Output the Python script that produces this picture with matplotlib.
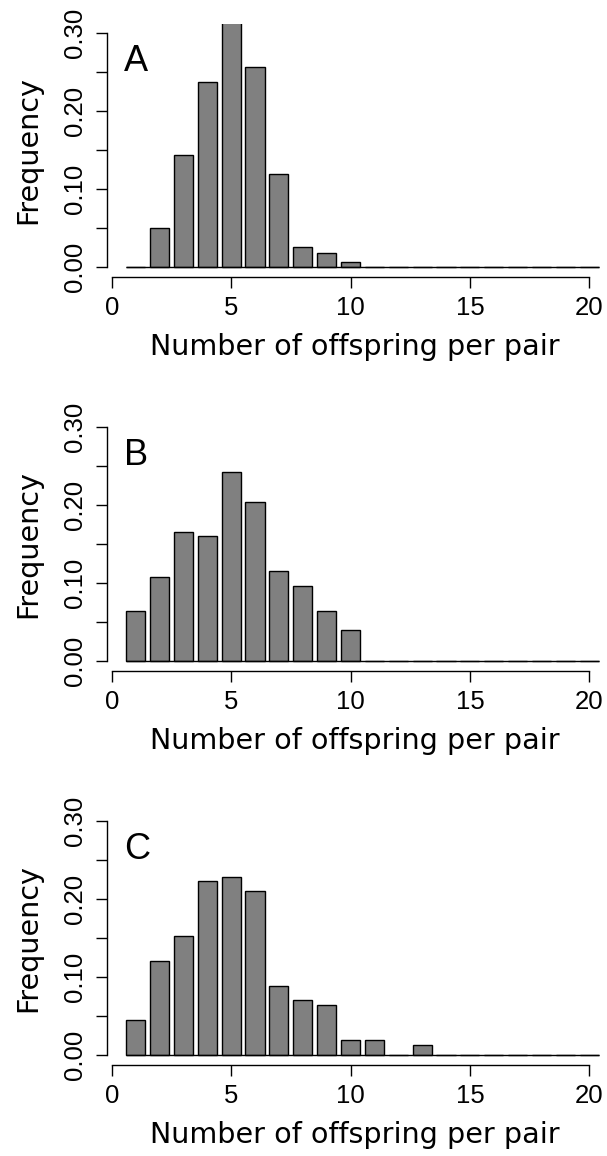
import numpy as np
import matplotlib
matplotlib.use('Agg')
import matplotlib.pyplot as plt

# offspring counts per pair (1..20) and observed frequency per panel
offspring = np.arange(1, 21)
freq_a = [0, 0.050, 0.144, 0.238, 0.330, 0.257, 0.119, 0.025, 0.018, 0.006,
          0, 0, 0, 0, 0, 0, 0, 0, 0, 0]
freq_b = [0.064, 0.108, 0.166, 0.160, 0.242, 0.204, 0.115, 0.096, 0.064, 0.039,
          0, 0, 0, 0, 0, 0, 0, 0, 0, 0]
freq_c = [0.045, 0.121, 0.153, 0.223, 0.229, 0.210, 0.089, 0.070, 0.064, 0.019,
          0.019, 0, 0.0125, 0, 0, 0, 0, 0, 0, 0]
panels = ['A', 'B', 'C']
xticks = [0, 5, 10, 15, 20]
yticks = np.arange(0, 0.301, 0.05)
ytick_labels = ['0.00', '', '0.10', '', '0.20', '', '0.30']

tick_font = 'Liberation Sans'
label_font = 'DejaVu Sans'

fig = plt.figure(figsize=(6.07, 11.56), dpi=100)

# axes placement in figure fractions (left, bottom, width, height)
bottoms = [0.7605, 0.4196, 0.0788]
left, width, height = 0.1768, 0.8232, 0.2188

for letter, freqs, bottom in zip(panels, [freq_a, freq_b, freq_c], bottoms):
    ax = fig.add_axes([left, bottom, width, height])
    ax.bar(offspring, freqs, width=0.8, color='#808080', edgecolor='black', linewidth=1.0)
    ax.hlines(0, offspring[0] - 0.4, offspring[-1] + 0.4, color='black', linewidth=1.0)

    ax.set_xlim(-0.184, 20.74)
    ax.set_ylim(-0.013, 0.312)

    ax.spines['top'].set_visible(False)
    ax.spines['right'].set_visible(False)
    ax.spines['left'].set_bounds(0, 0.30)
    ax.spines['bottom'].set_bounds(0, 20)
    for s in ['left', 'bottom']:
        ax.spines[s].set_linewidth(1.0)

    ax.set_xticks(xticks)
    ax.set_xticklabels([str(t) for t in xticks], fontsize=18.5, family=tick_font)
    ax.set_yticks(yticks)
    ax.set_yticklabels(ytick_labels, fontsize=18.5, family=tick_font, rotation=90, va='center')
    ax.tick_params(axis='both', direction='out', length=8, width=1.0)
    ax.tick_params(axis='x', pad=6)
    ax.tick_params(axis='y', pad=6.5)

    ax.set_ylabel('Frequency', fontsize=20.6, family=label_font)
    ax.yaxis.set_label_coords(-0.131, 0.5)
    ax.set_xlabel('Number of offspring per pair', fontsize=20.6, family=label_font)
    ax.xaxis.set_label_coords(0.496, -0.2234)

    ax.text(0.5, 0.252, letter, fontsize=26, family=tick_font, ha='left', va='baseline')

fig.savefig('out.png', dpi=100)
